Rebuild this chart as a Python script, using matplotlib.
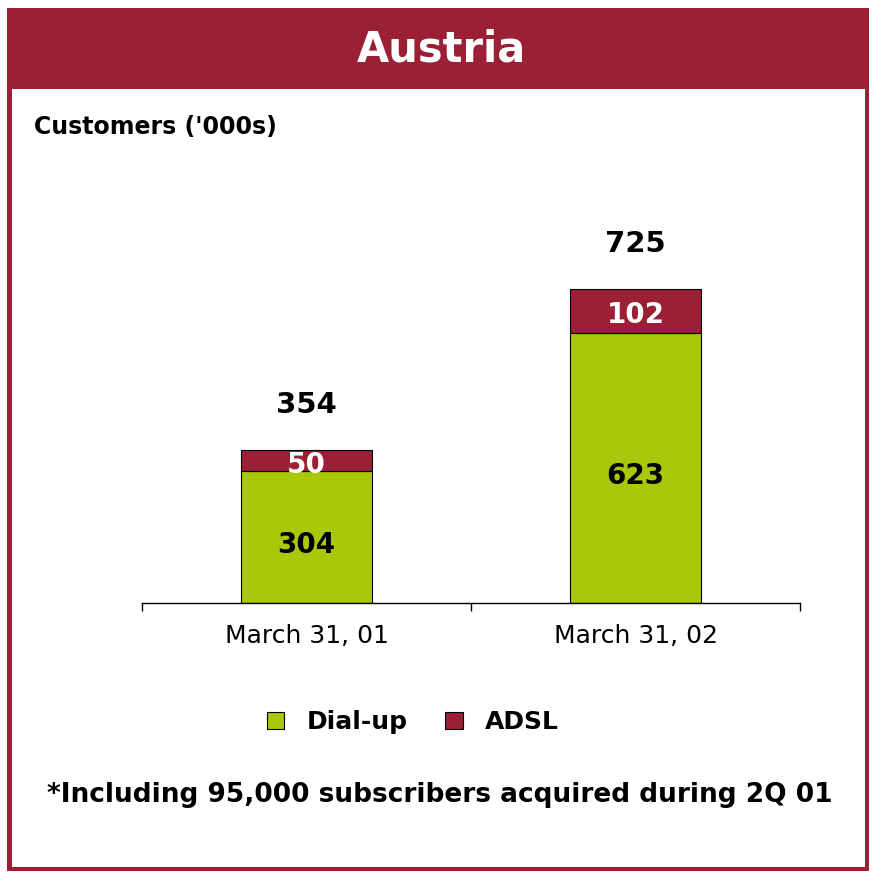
import matplotlib
matplotlib.use("Agg")
import matplotlib.pyplot as plt
from matplotlib.patches import Rectangle
import numpy as np

categories = ["March 31, 01", "March 31, 02"]
dialup = [304, 623]
adsl = [50, 102]
totals = [354, 725]
series_names = ["Dial-up", "ADSL"]
title = "Austria"
ylabel = "Customers ('000s)"
footnote = "*Including 95,000 subscribers acquired during 2Q 01"

RED = "#9B1F35"
GREEN = "#A8C80A"

W = H = 874
fig = plt.figure(figsize=(8.74, 8.74), dpi=100)

def fx(px): return px / W
def fy(py): return 1 - py / H

# frame
fig.patches.append(Rectangle((fx(7), fy(871)), fx(869) - fx(7), fy(8) - fy(871),
                             transform=fig.transFigure, facecolor=RED, edgecolor="none", zorder=-10))
fig.patches.append(Rectangle((fx(12), fy(867)), fx(865) - fx(12), fy(89) - fy(867),
                             transform=fig.transFigure, facecolor="white", edgecolor="none", zorder=-9))
fig.text(fx(441), fy(49), title, color="white", fontsize=30, fontweight="bold",
         ha="center", va="center")
fig.text(fx(34), fy(127), ylabel, fontsize=17, fontweight="bold", ha="left", va="center")

ax = fig.add_axes([fx(142), fy(603), fx(800) - fx(142), fy(170) - fy(603)])
ax.patch.set_alpha(0)
x = np.arange(len(categories))
b1 = ax.bar(x, dialup, width=0.4, color=GREEN, edgecolor="black", linewidth=0.8, label=series_names[0])
b2 = ax.bar(x, adsl, bottom=dialup, width=0.4, color=RED, edgecolor="black", linewidth=0.8, label=series_names[1])
ax.set_xlim(-0.5, 1.5)
ax.set_ylim(0, 1000)
for s in ["left", "right", "top"]:
    ax.spines[s].set_visible(False)
ax.spines["bottom"].set_linewidth(1.0)
ax.set_yticks([])
ax.set_xticks([-0.5, 0.5, 1.5])
ax.set_xticklabels([])
ax.tick_params(axis="x", direction="out", length=6, width=1.0)
for i, c in enumerate(categories):
    ax.text(i, -77, c, ha="center", va="center", fontsize=18)

for i in range(len(categories)):
    ax.text(i, dialup[i] / 2 - 18, str(dialup[i]), ha="center", va="center",
            fontsize=20, fontweight="bold", color="black")
    ax.text(i, dialup[i] + adsl[i] / 2 - 10, str(adsl[i]), ha="center", va="center",
            fontsize=20, fontweight="bold", color="white")
    ax.text(i, totals[i] + 103, str(totals[i]), ha="center", va="center",
            fontsize=21, fontweight="bold", color="black")

leg = fig.legend(handles=[b1, b2], labels=series_names, loc="center",
                 bbox_to_anchor=(fx(413), fy(722)), ncol=2, frameon=False,
                 prop={"size": 18, "weight": "bold"},
                 handlelength=0.7, handleheight=0.7, handletextpad=0.9,
                 columnspacing=1.5)

fig.text(fx(440), fy(795), footnote, fontsize=19, fontweight="bold", ha="center", va="center")

fig.savefig("out.png", dpi=100)
